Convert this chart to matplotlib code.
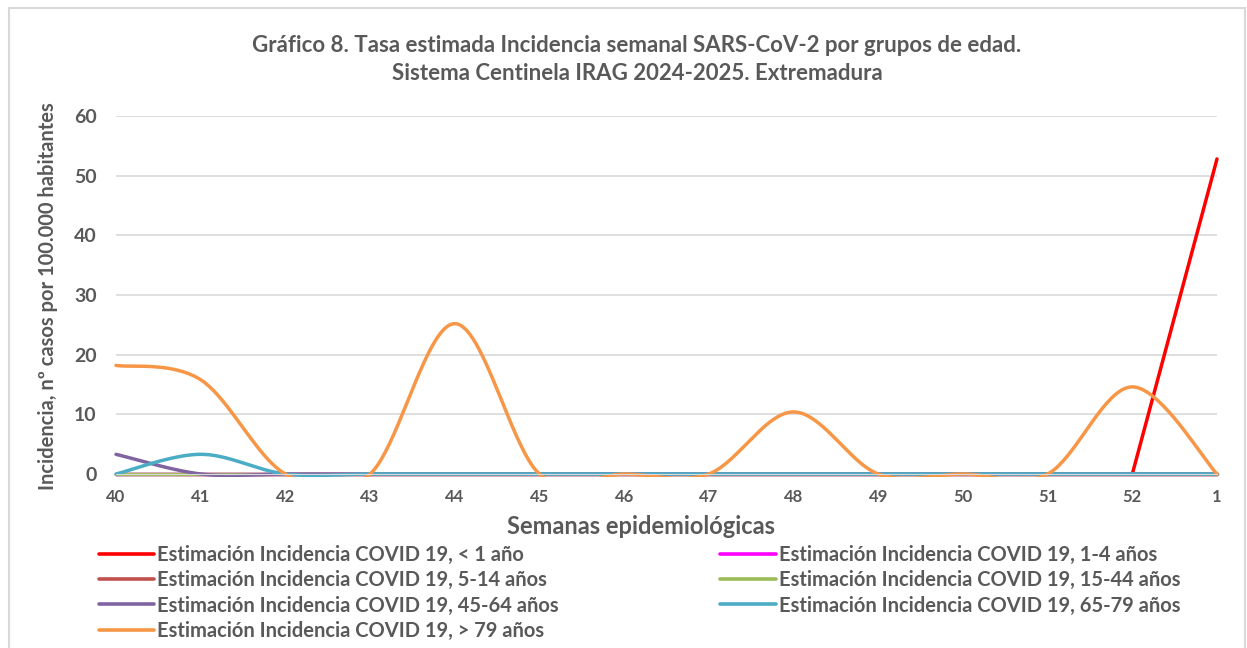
import numpy as np
import matplotlib.pyplot as plt
from matplotlib.patches import Rectangle
from matplotlib.lines import Line2D

plt.rcParams['font.family'] = ['Lato', 'DejaVu Sans']
plt.rcParams['font.weight'] = 'bold'

# datos
semanas = ['40', '41', '42', '43', '44', '45', '46', '47', '48', '49', '50', '51', '52', '1']
menor_1 = [0, 0, 0, 0, 0, 0, 0, 0, 0, 0, 0, 0, 0, 52.8]
de_1_4 = [0, 0, 0, 0, 0, 0, 0, 0, 0, 0, 0, 0, 0, 0]
de_5_14 = [0, 0, 0, 0, 0, 0, 0, 0, 0, 0, 0, 0, 0, 0]
de_15_44 = [0, 0, 0, 0, 0, 0, 0, 0, 0, 0, 0, 0, 0, 0]
de_45_64 = [3.3, 0, 0, 0, 0, 0, 0, 0, 0, 0, 0, 0, 0, 0]
de_65_79 = [0, 3.3, 0, 0, 0, 0, 0, 0, 0, 0, 0, 0, 0, 0]
mayor_79 = [18.2, 15.8, 0, 0, 25.2, 0, 0, 0, 10.4, 0, 0, 0, 14.6, 0]

etiquetas = ['Estimación Incidencia COVID 19, < 1 año',
             'Estimación Incidencia COVID 19, 1-4 años',
             'Estimación Incidencia COVID 19, 5-14 años',
             'Estimación Incidencia COVID 19, 15-44 años',
             'Estimación Incidencia COVID 19, 45-64 años',
             'Estimación Incidencia COVID 19, 65-79 años',
             'Estimación Incidencia COVID 19, > 79 años']
colores = ['#FF0000', '#FF00FF', '#C0504D', '#9BBB59', '#8064A2', '#4BACC6', '#F79646']
suavizado = [False, True, True, True, True, True, True]

GRIS = '#595959'


def suavizar(y, n=40):
    """Curva Bezier tipo Excel entre puntos consecutivos"""
    x = np.arange(len(y), dtype=float)
    y = np.asarray(y, dtype=float)
    pts = np.column_stack([x, y])
    xs, ys = [], []
    t = np.linspace(0, 1, n)[:, None]
    for i in range(len(pts) - 1):
        p0 = pts[max(i - 1, 0)]
        p1 = pts[i]
        p2 = pts[i + 1]
        p3 = pts[min(i + 2, len(pts) - 1)]
        c1 = p1 + (p2 - p0) / 6
        c2 = p2 - (p3 - p1) / 6
        b = ((1 - t) ** 3) * p1 + 3 * ((1 - t) ** 2) * t * c1 + 3 * (1 - t) * t ** 2 * c2 + t ** 3 * p2
        xs.append(b[:, 0])
        ys.append(b[:, 1])
    return np.concatenate(xs), np.concatenate(ys)


W, H = 1247, 648
fig = plt.figure(figsize=(W / 100, H / 100), dpi=100)
ax = fig.add_axes([116 / W, 1 - 474 / H, (1217 - 116) / W, (474 - 116) / H])

# marco del gráfico
fig.patches.append(Rectangle((8.5 / W, -0.05), (1245 - 8.5) / W, 1.05 - 8 / H,
                             transform=fig.transFigure, fill=False,
                             edgecolor='#D9D9D9', linewidth=1.5))

# recorte: área de trazado algo ampliada para no cortar las líneas en cero
recorte = Rectangle((-0.01, -0.008), 1.02, 1.05, transform=ax.transAxes, fill=False, visible=False)
ax.add_patch(recorte)

series = [menor_1, de_1_4, de_5_14, de_15_44, de_45_64, de_65_79, mayor_79]
handles = []
for vals, lab, col, sm in zip(series, etiquetas, colores, suavizado):
    if sm:
        xx, yy = suavizar(vals)
    else:
        xx, yy = np.arange(len(vals))[-2:], np.asarray(vals)[-2:]
    ln, = ax.plot(xx, yy, color=col, linewidth=2.5, solid_capstyle='round')
    ln.set_clip_path(recorte)
    handles.append(Line2D([], [], color=col, linewidth=2.6, solid_capstyle='round', label=lab))

ax.set_xlim(0, len(semanas) - 1)
ax.set_ylim(0, 60)
ax.set_yticks(range(0, 61, 10))
ax.set_xticks(range(len(semanas)))
ax.set_xticklabels(semanas)
ax.grid(axis='y', color='#D9D9D9', linewidth=1.2)
ax.set_axisbelow(True)
for s in ['top', 'right', 'left']:
    ax.spines[s].set_visible(False)
ax.spines['bottom'].set_color('#D9D9D9')
ax.tick_params(axis='both', length=0, colors=GRIS)
ax.tick_params(axis='y', labelsize=14, pad=14)
ax.tick_params(axis='x', labelsize=12, pad=11)

fig.text(637 / W, 1 - 46 / H, 'Gráfico 8. Tasa estimada Incidencia semanal SARS-CoV-2 por grupos de edad.',
         ha='center', va='center', fontsize=16, color=GRIS, fontweight='bold')
fig.text(637 / W, 1 - 73 / H, 'Sistema Centinela IRAG 2024-2025. Extremadura',
         ha='center', va='center', fontsize=16, color=GRIS, fontweight='bold')
fig.text(641 / W, 1 - 526 / H, 'Semanas epidemiológicas', ha='center', va='center',
         fontsize=17, color=GRIS, fontweight='bold')
fig.text(48 / W, 1 - 296 / H, 'Incidencia, nº casos por 100.000 habitantes', ha='center', va='center',
         rotation=90, fontsize=14.5, color=GRIS, fontweight='bold')

# leyenda en dos columnas (orden de filas de Excel)
orden = [0, 2, 4, 6, 1, 3, 5]
leg = fig.legend([handles[i] for i in orden], [etiquetas[i] for i in orden],
                 loc='upper left', bbox_to_anchor=(99 / W, 1 - 545 / H), ncol=2,
                 frameon=False, fontsize=14.5, handlelength=2.75, handletextpad=0.15,
                 columnspacing=8.0, labelspacing=0.26, borderaxespad=0, borderpad=0)
for t in leg.get_texts():
    t.set_color(GRIS)

fig.savefig('out.png', dpi=100)
